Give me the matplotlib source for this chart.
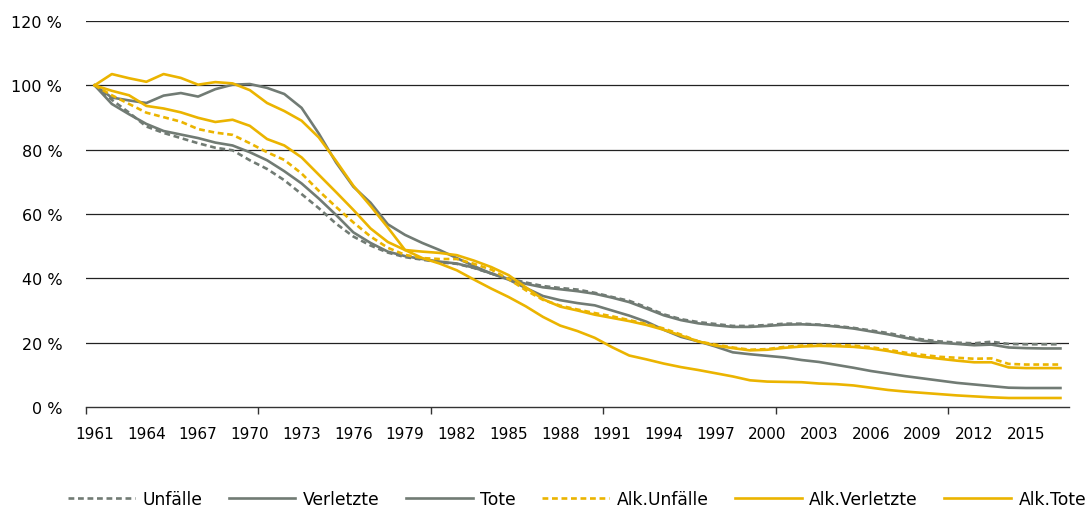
# Entwicklung der Unfallzahlen seit 1961 (1961 = 100 %)
import numpy as np
import matplotlib.pyplot as plt

years = list(range(1961, 2018))

unfaelle = [100, 95.5, 91.5, 87.2, 85.2, 83.6, 82.0, 80.6, 79.8, 76.7,
            74.0, 70.5, 66.2, 61.8, 57.0, 53.0, 50.2, 48.0, 46.6, 45.8,
            45.0, 44.5, 43.2, 41.5, 40.0, 38.7, 37.6, 37.0, 36.5, 35.5,
            34.2, 33.0, 31.0, 28.8, 27.3, 26.4, 25.8, 25.2, 25.2, 25.5,
            25.9, 25.9, 25.6, 25.2, 24.6, 23.8, 23.0, 21.9, 21.0, 20.4,
            20.0, 19.8, 20.3, 19.6, 19.5, 19.5, 19.5]
verletzte = [100, 94.2, 91.0, 88.0, 85.8, 84.7, 83.6, 82.2, 81.3, 79.2,
             76.7, 73.3, 69.5, 64.8, 59.7, 54.3, 51.0, 48.3, 46.9, 46.0,
             45.2, 44.6, 43.3, 41.5, 39.8, 38.3, 37.2, 36.6, 36.0, 35.2,
             34.0, 32.6, 30.6, 28.5, 27.0, 26.0, 25.4, 24.9, 24.9, 25.2,
             25.6, 25.7, 25.5, 25.0, 24.4, 23.5, 22.6, 21.5, 20.6, 20.0,
             19.6, 19.2, 19.4, 18.5, 18.3, 18.2, 18.2]
tote = [100, 96.2, 95.3, 94.5, 96.8, 97.6, 96.5, 98.8, 100.2, 100.4,
        99.2, 97.3, 93.0, 85.0, 76.0, 68.5, 63.5, 56.8, 53.5, 51.0,
        48.8, 46.3, 43.8, 41.5, 39.6, 37.0, 34.5, 33.2, 32.3, 31.6,
        30.0, 28.4, 26.5, 24.0, 21.8, 20.4, 18.8, 17.0, 16.4, 15.9,
        15.4, 14.6, 14.0, 13.1, 12.2, 11.2, 10.4, 9.6, 8.9, 8.2,
        7.5, 7.0, 6.5, 6.0, 5.9, 5.9, 5.9]
alk_unfaelle = [100, 96.9, 94.2, 91.5, 90.1, 88.7, 86.4, 85.3, 84.6, 82.0,
                79.2, 76.8, 72.6, 67.2, 62.2, 57.4, 53.0, 49.5, 47.3, 46.3,
                46.0, 46.0, 44.5, 42.7, 39.8, 36.3, 33.3, 31.5, 30.3, 29.2,
                28.2, 27.0, 25.8, 24.4, 22.5, 20.4, 19.4, 18.5, 17.8, 18.0,
                18.7, 19.1, 19.3, 19.3, 19.1, 18.6, 17.8, 16.9, 16.2, 15.6,
                15.3, 15.0, 15.1, 13.4, 13.2, 13.2, 13.2]
alk_verletzte = [100, 98.3, 96.9, 93.6, 92.8, 91.6, 89.9, 88.6, 89.3, 87.4,
                 83.3, 81.3, 77.6, 72.2, 66.8, 61.3, 55.5, 51.3, 48.8, 48.3,
                 47.9, 47.2, 45.5, 43.5, 41.0, 37.2, 33.5, 31.2, 30.0, 28.7,
                 27.7, 26.7, 25.5, 24.0, 22.2, 20.4, 19.1, 18.3, 17.6, 17.8,
                 18.4, 18.8, 19.0, 18.9, 18.7, 18.2, 17.4, 16.4, 15.6, 15.0,
                 14.4, 13.9, 13.9, 12.3, 12.1, 12.1, 12.1]
alk_tote = [100, 103.5, 102.2, 101.1, 103.5, 102.3, 100.2, 101.0, 100.6, 98.5,
            94.5, 92.0, 89.0, 83.8, 76.5, 68.8, 62.5, 55.8, 48.8, 46.3,
            44.6, 42.5, 39.6, 36.8, 34.2, 31.3, 28.0, 25.3, 23.6, 21.5,
            18.6, 16.0, 14.8, 13.5, 12.4, 11.5, 10.5, 9.5, 8.3, 7.9,
            7.8, 7.7, 7.3, 7.1, 6.7, 6.0, 5.3, 4.8, 4.4, 4.0,
            3.6, 3.3, 3.0, 2.8, 2.8, 2.8, 2.8]

grau = '#717b74'
gelb = '#ebb400'

plt.rcParams['font.family'] = 'DejaVu Sans'
plt.rcParams['font.size'] = 11

fig = plt.figure(figsize=(10.91, 5.10), dpi=100)
ax = fig.add_axes([0.0788, 0.2, 0.9011, 0.7569])

x = np.arange(len(years))
lw = 1.9
ax.plot(x, unfaelle, color=grau, lw=lw, ls=(0, (2.2, 1.4)), label='Unfälle')
ax.plot(x, verletzte, color=grau, lw=lw, label='Verletzte')
ax.plot(x, tote, color=grau, lw=lw, label='Tote')
ax.plot(x, alk_unfaelle, color=gelb, lw=lw, ls=(0, (2.2, 1.4)), label='Alk.Unfälle')
ax.plot(x, alk_verletzte, color=gelb, lw=lw, label='Alk.Verletzte')
ax.plot(x, alk_tote, color=gelb, lw=lw, label='Alk.Tote')

ax.set_xlim(-0.5, len(years) - 0.5)
ax.set_ylim(0, 120)

# y-Achse: Gitterlinien, keine Striche
yt = np.arange(0, 121, 20)
ax.set_yticks(yt)
ax.set_yticklabels([f'{v} %' for v in yt])
ax.tick_params(axis='y', length=0, pad=17, labelsize=11.5)
for v in yt[1:]:
    ax.axhline(v, color='#222222', lw=0.9, zorder=0)

# x-Achse: Beschriftung jedes 3. Jahr, Striche alle 10 Kategorien
ax.set_xticks(x[::3])
ax.set_xticklabels([str(y) for y in years[::3]])
ax.set_xticks(np.arange(-0.5, len(years), 10), minor=True)
ax.tick_params(axis='x', which='major', length=0, pad=14)
ax.tick_params(axis='x', which='minor', length=5, width=1, color='#333333')

for s in ['top', 'right', 'left']:
    ax.spines[s].set_visible(False)
ax.spines['bottom'].set_color('#333333')
ax.spines['bottom'].set_linewidth(1)

fig.legend(loc='center', bbox_to_anchor=(0.529, 0.02), ncol=6, frameon=False,
           fontsize=12.3, handlelength=3.9, handletextpad=0.45, columnspacing=1.55)

fig.savefig('out.png', dpi=100)
